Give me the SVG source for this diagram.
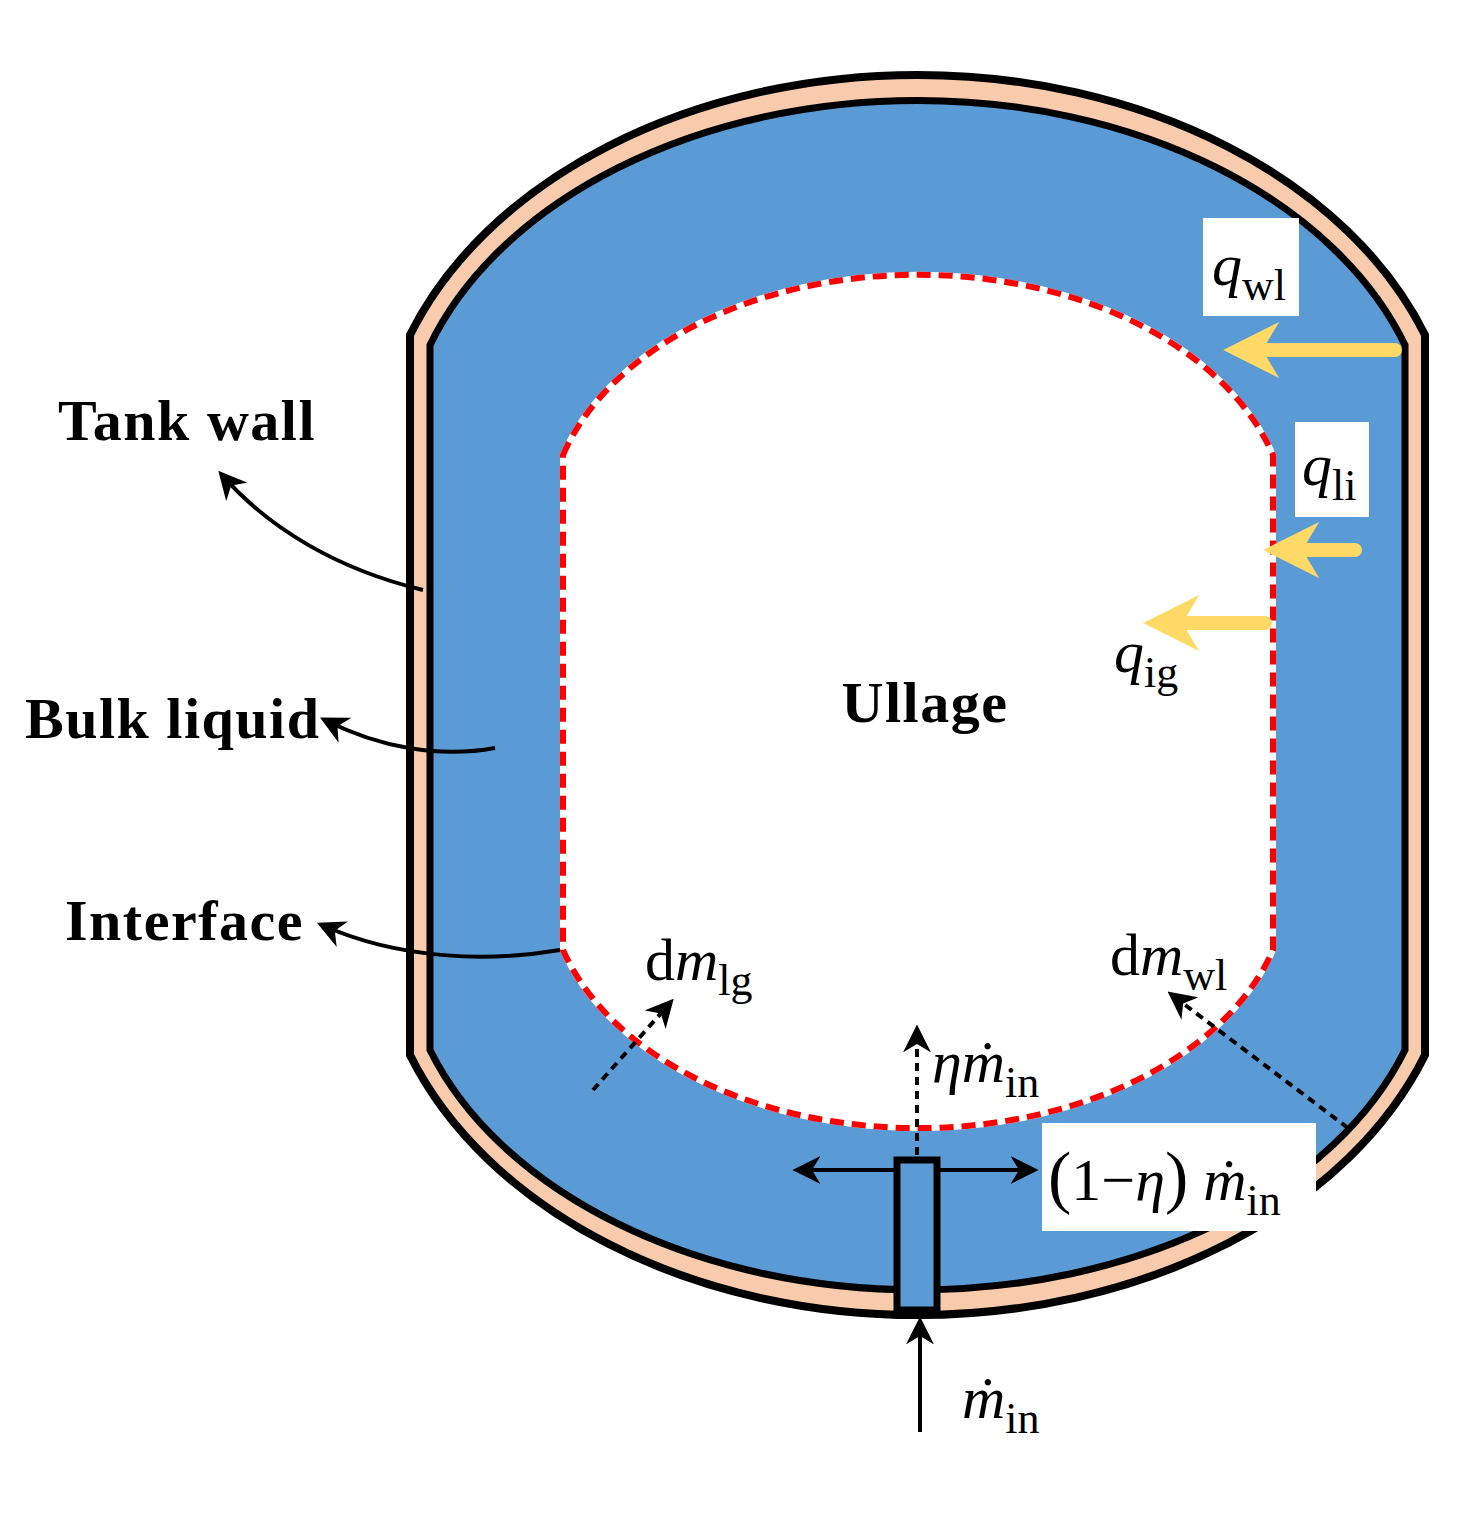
<svg xmlns="http://www.w3.org/2000/svg" width="1466" height="1513" viewBox="0 0 1466 1513">
<defs>
<marker id="ah" viewBox="0 0 10 10" refX="8" refY="5" markerWidth="7" markerHeight="7" orient="auto"><path d="M0,0L10,5L0,10L3,5Z" fill="#000"/></marker>
<marker id="ay" viewBox="0 0 10 10" refX="7" refY="5" markerWidth="4" markerHeight="4" orient="auto"><path d="M0,0L10,5L0,10L3,5Z" fill="#FFD966"/></marker>
<style>
.lbl{font-family:"Liberation Serif",serif;font-weight:bold;font-size:58px;letter-spacing:1.5px;fill:#000}
.m{font-family:"Liberation Serif",serif;font-style:italic;font-size:60px}
.s{font-family:"Liberation Serif",serif;font-style:normal;font-size:44px}
.r{font-family:"Liberation Serif",serif;font-size:60px}
.ln{fill:none;stroke:#000;stroke-width:4;marker-end:url(#ah)}
.dl{fill:none;stroke:#000;stroke-width:4;stroke-dasharray:8 6;marker-end:url(#ah)}
.yl{fill:none;stroke:#FFD966;stroke-width:14;stroke-linecap:round;marker-end:url(#ay)}
</style>
</defs>
<rect width="1466" height="1513" fill="#fff"/>
<g id="tank">
<path d="M410,335 A540,395 0 0 1 1425,335 L1425,1055 A540,395 0 0 1 410,1055 Z" fill="#F8CBAD" stroke="#000" stroke-width="8"/>
<path d="M430,345 A515,361 0 0 1 1405,345 L1405,1050 A515,354 0 0 1 430,1050 Z" fill="#5B9BD5" stroke="#000" stroke-width="7"/>
</g>
<g id="ullage">
<path d="M563,455 A370,251 0 0 1 1273,455 L1273,950 A370,248 0 0 1 563,950 Z" fill="#fff" stroke="#fff" stroke-width="6"/>
<path d="M563,455 A370,251 0 0 1 1273,455 L1273,950 A370,248 0 0 1 563,950 Z" fill="none" stroke="#f00" stroke-width="6" stroke-dasharray="14 8"/>
<text class="lbl" x="925" y="722" text-anchor="middle">Ullage</text>
</g>
<g id="pipe"><rect x="897" y="1160" width="40" height="150" fill="#5B9BD5" stroke="#000" stroke-width="7"/></g>
<g id="connectors">
<path class="ln" d="M423,590 C340,570 270,530 222,475"/>
<path class="ln" d="M495,748 C440,758 380,748 325,720"/>
<path class="ln" d="M560,950 C490,962 400,960 322,925"/>
<path class="yl" d="M1395,350 L1240,350"/>
<path class="yl" d="M1355,550 L1280,550"/>
<path class="yl" d="M1265,623 L1160,623"/>
<path class="dl" d="M593,1090 L670,1003"/>
<path class="dl" d="M1348,1128 L1172,995"/>
<path class="dl" d="M917,1155 L917,1030"/>
<path class="ln" d="M897,1170 L798,1170"/>
<path class="ln" d="M937,1170 L1033,1170"/>
<path class="ln" d="M920,1432 L920,1322"/>
</g>
<g id="labels">
<text class="lbl" x="58" y="440">Tank wall</text>
<text class="lbl" x="25" y="738">Bulk liquid</text>
<text class="lbl" x="65" y="940">Interface</text>
<rect x="1203" y="218" width="96" height="98" fill="#fff"/>
<text class="m" x="1212" y="285">q<tspan class="s" dy="15">wl</tspan></text>
<rect x="1295" y="422" width="74" height="95" fill="#fff"/>
<text class="m" x="1302" y="485">q<tspan class="s" dy="15">li</tspan></text>
<text class="m" x="1114" y="672">q<tspan class="s" dy="15">ig</tspan></text>
<text class="r" x="645" y="980">d<tspan class="m">m</tspan><tspan class="s" dy="15">lg</tspan></text>
<text class="r" x="1110" y="975">d<tspan class="m">m</tspan><tspan class="s" dy="15">wl</tspan></text>
<text class="m" x="932" y="1082">ηṁ<tspan class="s" dy="15">in</tspan></text>
<rect x="1042" y="1123" width="274" height="108" fill="#fff"/>
<text class="r" x="1048" y="1200"><tspan font-size="70">(</tspan>1−<tspan class="m">η</tspan><tspan font-size="70">)</tspan> <tspan class="m">ṁ</tspan><tspan class="s" dy="15">in</tspan></text>
<text class="m" x="962" y="1418">ṁ<tspan class="s" dy="15">in</tspan></text>
</g>
</svg>
